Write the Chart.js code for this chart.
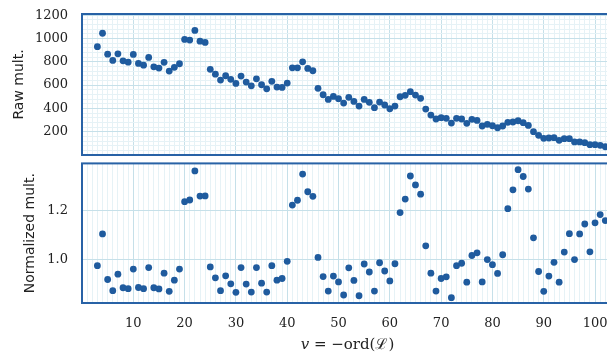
<!DOCTYPE html>
<html>
<head>
<meta charset="utf-8">
<script src="https://cdn.jsdelivr.net/npm/chart.js@4.4.1/dist/chart.umd.min.js"></script>
<style>
  html, body { margin: 0; padding: 0; background: #fff; }
  #wrap { position: relative; width: 607px; height: 360px; overflow: hidden; }
  .panel { position: absolute; left: 0; }
  #rawBox { top: 0; width: 620px; height: 160px; }
  #normBox { top: 160px; width: 620px; height: 200px; }
</style>
</head>
<body>
<div id="wrap">
  <div class="panel" id="rawBox"><canvas id="rawChart"></canvas></div>
  <div class="panel" id="normBox"><canvas id="normChart"></canvas></div>
</div>
<script>
// v = -ord(L)
const v = [
  3, 4, 5, 6, 7, 8, 9, 10, 11, 12, 13, 14, 15, 16, 17, 18, 19, 20, 21, 22,
  23, 24, 25, 26, 27, 28, 29, 30, 31, 32, 33, 34, 35, 36, 37, 38, 39, 40, 41, 42,
  43, 44, 45, 46, 47, 48, 49, 50, 51, 52, 53, 54, 55, 56, 57, 58, 59, 60, 61, 62,
  63, 64, 65, 66, 67, 68, 69, 70, 71, 72, 73, 74, 75, 76, 77, 78, 79, 80, 81, 82,
  83, 84, 85, 86, 87, 88, 89, 90, 91, 92, 93, 94, 95, 96, 97, 98, 99, 100, 101, 102
];

// raw multiplicities
const rawMult = [
  930, 1045, 865, 812, 868, 808, 797, 863, 786, 771, 837, 757, 746, 795, 720, 752, 783, 992, 986, 1069,
  977, 966, 735, 694, 643, 680, 649, 614, 677, 626, 594, 654, 603, 568, 632, 583, 580, 617, 748, 748,
  800, 743, 723, 572, 517, 477, 503, 483, 446, 495, 460, 420, 477, 452, 406, 454, 429, 397, 420, 500,
  512, 543, 514, 486, 394, 343, 309, 320, 315, 274, 315, 309, 272, 306, 297, 249, 263, 251, 234, 249,
  280, 283, 294, 277, 254, 200, 169, 143, 146, 149, 126, 140, 140, 112, 112, 106, 89, 89, 83, 71
];

// normalized multiplicities
const normMult = [
  0.974, 1.105, 0.917, 0.871, 0.939, 0.883, 0.879, 0.960, 0.884, 0.879, 0.966, 0.883, 0.878, 0.943, 0.868, 0.914, 0.960, 1.238, 1.245, 1.365,
  1.261, 1.262, 0.969, 0.924, 0.871, 0.932, 0.899, 0.864, 0.966, 0.898, 0.865, 0.966, 0.902, 0.865, 0.974, 0.914, 0.921, 0.992, 1.224, 1.244,
  1.352, 1.279, 1.260, 1.008, 0.929, 0.869, 0.931, 0.907, 0.853, 0.965, 0.913, 0.850, 0.981, 0.948, 0.869, 0.986, 0.952, 0.911, 0.982, 1.193,
  1.249, 1.344, 1.307, 1.269, 1.056, 0.943, 0.869, 0.921, 0.928, 0.842, 0.974, 0.984, 0.906, 1.016, 1.027, 0.907, 0.999, 0.978, 0.942, 1.019,
  1.209, 1.287, 1.370, 1.342, 1.290, 1.089, 0.950, 0.868, 0.931, 0.988, 0.906, 1.030, 1.106, 0.999, 1.105, 1.146, 1.031, 1.151, 1.185, 1.160
];

// tick labels
const xTicks = [10, 20, 30, 40, 50, 60, 70, 80, 90, 100];
const rawTicks = [200, 400, 600, 800, 1000, 1200];
const normTicks = [1.0, 1.2];

const X_MAX = 103.5;
const DOT = '#1f5b9e';
const FRAME = '#2862a6';
const MAJOR = '#c6e0e9';
const MINOR = '#e6f2f6';
const tickFont = { family: '"DejaVu Serif", serif', size: 13 };
const titleFont = { family: '"DejaVu Sans", sans-serif', size: 14 };

// minor grid positions (every unit on x, every 40 on the raw y axis)
const xGrid = [];
for (let i = 0; i <= 103; i++) xGrid.push(i);
const rawGrid = [];
for (let i = 0; i <= 1200; i += 40) rawGrid.push(i);

const toPoints = ys => ys.map((y, i) => ({ x: v[i], y: y }));

// fixed axis boxes, no extra room for overhanging labels
function fixBox(size) {
  return s => {
    if (s.isHorizontal()) s.height = size; else s.width = size;
    s.paddingTop = 0;
    s.paddingBottom = 0;
    s.paddingLeft = 0;
    s.paddingRight = 0;
  };
}

// blue frame around each plot area
const frame = {
  id: 'frame',
  afterDraw(chart) {
    const a = chart.chartArea, c = chart.ctx;
    c.save();
    c.strokeStyle = FRAME;
    c.lineWidth = 2;
    c.strokeRect(a.left, a.top, a.right - a.left, a.bottom - a.top);
    c.restore();
  }
};

// x axis title with italic v
const xTitle = {
  id: 'xTitle',
  afterDraw(chart) {
    const c = chart.ctx, a = chart.chartArea;
    const parts = [
      ['italic 15px "DejaVu Serif", serif', 'v'],
      ['15px "DejaVu Serif", serif', ' = \u2212ord(\u2112)']
    ];
    c.save();
    c.fillStyle = '#222';
    c.textBaseline = 'middle';
    let w = 0;
    parts.forEach(p => { c.font = p[0]; w += c.measureText(p[1]).width; });
    let x = (a.left + a.right) / 2 - w / 2;
    parts.forEach(p => {
      c.font = p[0];
      c.fillText(p[1], x, 185);
      x += c.measureText(p[1]).width;
    });
    c.restore();
  }
};

function xScale(showLabels) {
  return {
    type: 'linear',
    min: 0,
    max: X_MAX,
    afterBuildTicks: s => { s.ticks = xGrid.map(t => ({ value: t })); },
    afterFit: fixBox(showLabels ? 57 : 0),
    ticks: {
      display: showLabels,
      autoSkip: false,
      maxRotation: 0,
      padding: 13,
      color: '#222',
      font: tickFont,
      callback: t => xTicks.includes(t) ? String(t) : ''
    },
    grid: {
      drawTicks: false,
      color: ctx => ctx.tick.value % 10 === 0 ? MAJOR : MINOR
    },
    border: { display: false }
  };
}

function dataset(label, ys) {
  return {
    label: label,
    data: toPoints(ys),
    backgroundColor: DOT,
    borderColor: DOT,
    borderWidth: 0,
    pointRadius: 3.4,
    pointHoverRadius: 3.4
  };
}

const common = {
  responsive: true,
  maintainAspectRatio: false,
  animation: false,
  plugins: { legend: { display: false }, tooltip: { enabled: false } }
};

// Raw multiplicities
new Chart(document.getElementById('rawChart'), {
  type: 'scatter',
  data: { datasets: [dataset('Raw mult.', rawMult)] },
  options: {
    ...common,
    layout: { padding: { top: 14, bottom: 5, left: 0, right: 7 } },
    scales: {
      x: xScale(false),
      y: {
        min: 0,
        max: 1210,
        afterBuildTicks: s => { s.ticks = rawGrid.map(t => ({ value: t })); },
        afterFit: fixBox(82),
        ticks: {
          autoSkip: false,
          padding: 14,
          color: '#222',
          font: tickFont,
          callback: t => rawTicks.includes(t) ? String(t) : ''
        },
        grid: {
          drawTicks: false,
          color: ctx => ctx.tick.value % 200 === 0 ? MAJOR : MINOR
        },
        border: { display: false },
        title: { display: true, text: 'Raw mult.', color: '#222', font: titleFont, padding: { top: 11, bottom: 0 } }
      }
    }
  },
  plugins: [frame]
});

// Normalized multiplicities
new Chart(document.getElementById('normChart'), {
  type: 'scatter',
  data: { datasets: [dataset('Normalized mult.', normMult)] },
  options: {
    ...common,
    layout: { padding: { top: 2, bottom: 0, left: 0, right: 7 } },
    scales: {
      x: xScale(true),
      y: {
        min: 0.82,
        max: 1.396,
        afterBuildTicks: s => { s.ticks = normTicks.map(t => ({ value: t })); },
        afterFit: fixBox(82),
        ticks: {
          padding: 14,
          color: '#222',
          font: tickFont,
          callback: t => t.toFixed(1)
        },
        grid: { drawTicks: false, color: MAJOR },
        border: { display: false },
        title: { display: true, text: 'Normalized mult.', color: '#222', font: titleFont, padding: { top: 22, bottom: 0 } }
      }
    }
  },
  plugins: [frame, xTitle]
});
</script>
</body>
</html>
